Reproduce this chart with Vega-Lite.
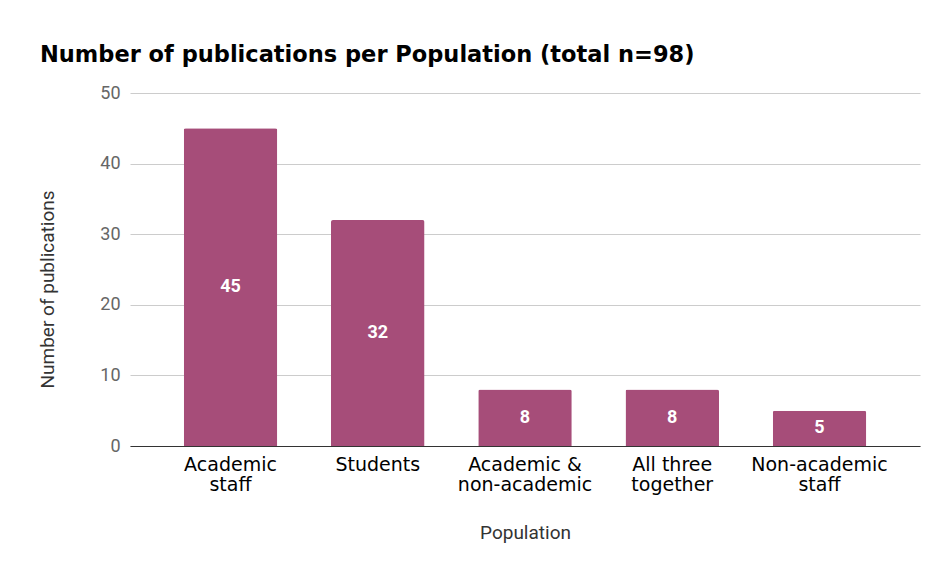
{
  "$schema": "https://vega.github.io/schema/vega-lite/v6.json",
  "autosize": {"type": "none"},
  "width": 790,
  "height": 353,
  "padding": {"left": 130, "top": 93, "right": 17, "bottom": 117},
  "background": "white",
  "title": {
    "text": "Number of publications per Population (total n=98)",
    "font": "DejaVu Sans",
    "fontSize": 22.5,
    "fontWeight": "bold",
    "color": "#000000",
    "anchor": "start",
    "frame": "group",
    "dx": -90,
    "offset": 18
  },
  "data": {
    "values": [
      {"population": "Academic staff", "value": 45},
      {"population": "Students", "value": 32},
      {"population": "Academic & non-academic", "value": 8},
      {"population": "All three together", "value": 8},
      {"population": "Non-academic staff", "value": 5}
    ]
  },
  "encoding": {
    "x": {
      "field": "population",
      "type": "nominal",
      "sort": null,
      "scale": {"paddingInner": 0.365, "paddingOuter": 0.365},
      "axis": {
        "title": "Population",
        "titleFont": "Roboto",
        "titleFontSize": 19,
        "titleFontWeight": "normal",
        "titleColor": "#333333",
        "titlePadding": 29,
        "labelAngle": 0,
        "labelFont": "DejaVu Sans",
        "labelFontSize": 19,
        "labelColor": "#000000",
        "labelLineHeight": 20,
        "labelPadding": 9,
        "labelExpr": "datum.value == 'Academic staff' ? ['Academic', 'staff'] : datum.value == 'Academic & non-academic' ? ['Academic &', 'non-academic'] : datum.value == 'All three together' ? ['All three', 'together'] : datum.value == 'Non-academic staff' ? ['Non-academic', 'staff'] : datum.label",
        "ticks": false,
        "domain": true,
        "domainColor": "#333333",
        "domainWidth": 1
      }
    }
  },
  "layer": [
    {
      "mark": {"type": "bar", "color": "#a64d79", "cornerRadiusTopLeft": 2, "cornerRadiusTopRight": 2},
      "encoding": {
        "y": {
          "field": "value",
          "type": "quantitative",
          "scale": {"domain": [0, 50], "nice": false},
          "axis": {
            "title": "Number of publications",
            "titleFont": "Roboto",
            "titleFontSize": 19,
            "titleFontWeight": "normal",
            "titleColor": "#333333",
            "titlePadding": 42,
            "titleY": 196,
            "values": [0, 10, 20, 30, 40, 50],
            "labelFont": "Roboto",
            "labelFontSize": 18,
            "labelColor": "#666666",
            "labelPadding": 10,
            "ticks": false,
            "domain": false,
            "grid": true,
            "gridColor": "#cccccc",
            "gridWidth": 1
          }
        }
      }
    },
    {
      "transform": [{"calculate": "datum.value / 2", "as": "mid"}],
      "mark": {"type": "text", "color": "white", "font": "Roboto", "fontSize": 18, "fontWeight": "bold", "baseline": "middle", "align": "center"},
      "encoding": {
        "y": {"field": "mid", "type": "quantitative"},
        "text": {"field": "value", "type": "quantitative"}
      }
    }
  ],
  "config": {"view": {"stroke": null}}
}
